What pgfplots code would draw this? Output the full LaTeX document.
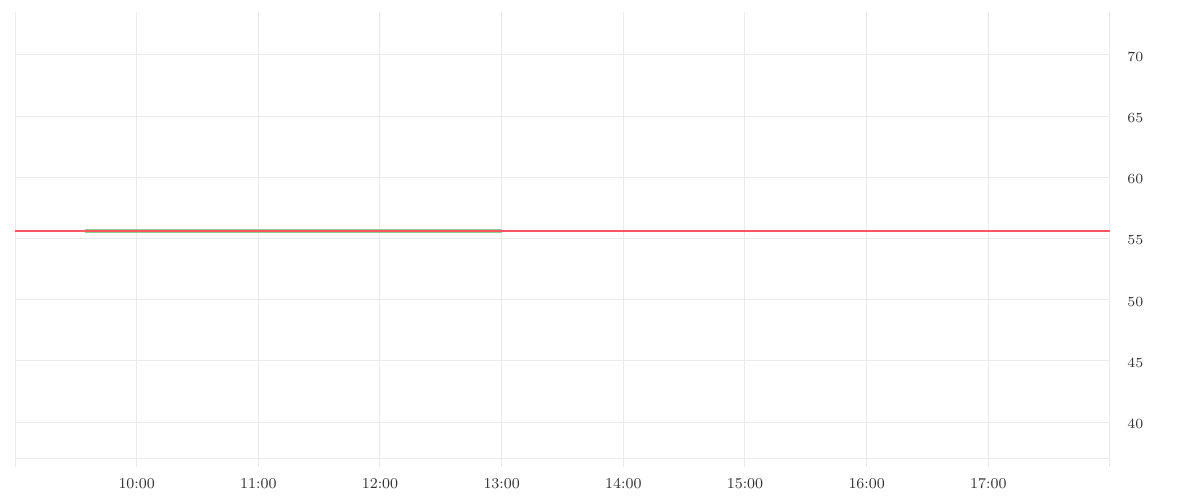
\documentclass[border=0pt]{standalone}
\usepackage{pgfplots}
\pgfplotsset{compat=1.18}
\definecolor{gridc}{HTML}{EBEBEB}
\definecolor{redl}{HTML}{FF5462}
\definecolor{greenb}{HTML}{8FCC8F}
\definecolor{labc}{HTML}{333333}
\begin{document}
\begin{tikzpicture}
\path[fill=white] (0pt,0pt) rectangle (600pt,250pt);
\begin{axis}[
  at={(7.5pt,16.5pt)}, anchor=south west,
  scale only axis, width=547.5pt, height=227.5pt,
  xmin=9, xmax=18, ymin=36.33, ymax=73.5,
  axis line style={draw=none},
  major tick length=0pt,
  xtick={9,10,...,18},
  xticklabels={,10:00,11:00,12:00,13:00,14:00,15:00,16:00,17:00,},
  ytick={40,45,...,70},
  yticklabel pos=right,
  grid=major,
  major grid style={gridc, line width=0.5pt},
  tick label style={font=\fontsize{7.5}{9}\selectfont, text=labc},
  xticklabel style={anchor=base, yshift=-10.5pt},
  yticklabel style={anchor=west, inner sep=0pt, xshift=8.5pt, yshift=-1pt},
  clip=false,
]
\draw[gridc, line width=0.5pt] (axis cs:9,37.06) -- (axis cs:18,37.06);
\addplot[greenb, line width=2pt, forget plot] coordinates {(9.573,55.6) (13.0,55.6)};
\addplot[redl, line width=1pt, forget plot] coordinates {(9,55.6) (18,55.6)};
\end{axis}
\end{tikzpicture}
\end{document}
